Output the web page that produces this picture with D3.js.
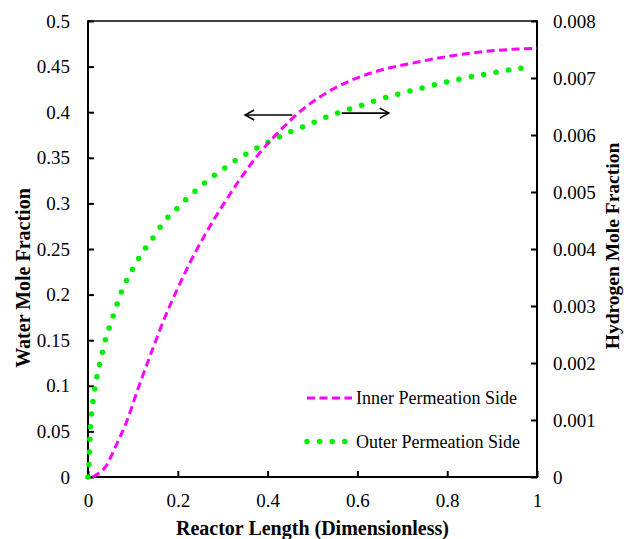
<!DOCTYPE html>
<html>
<head>
<meta charset="utf-8">
<script src="https://cdn.jsdelivr.net/npm/d3@7"></script>
<style>
    html, body { margin: 0; padding: 0; background: #fff; }
    svg { display: block; }
</style>
</head>
<body>
<svg id="chart" width="624" height="539"></svg>
<script>
// Tick values
const xTicks = [0, 0.2, 0.4, 0.6, 0.8, 1];
const waterTicks = [0, 0.05, 0.1, 0.15, 0.2, 0.25, 0.3, 0.35, 0.4, 0.45, 0.5];
const hydrogenTicks = [0, 0.001, 0.002, 0.003, 0.004, 0.005, 0.006, 0.007, 0.008];

// Inner permeation side (water mole fraction, left axis)
const innerX = [0.01, 0.017, 0.039, 0.061, 0.087, 0.113, 0.143, 0.172, 0.198, 0.224, 0.261, 0.299,
    0.335, 0.38, 0.428, 0.473, 0.517, 0.577, 0.651, 0.725, 0.799, 0.873, 0.947, 1.0];
const innerY = [0, 0.002, 0.011, 0.033, 0.062, 0.099, 0.139, 0.176, 0.205, 0.232, 0.266, 0.297,
    0.324, 0.354, 0.38, 0.401, 0.417, 0.433, 0.446, 0.454, 0.461, 0.466, 0.469, 0.47];

// Outer permeation side (hydrogen mole fraction, right axis)
const outerX = [0, 0.002, 0.003, 0.004, 0.0056, 0.008, 0.011, 0.015, 0.02, 0.026, 0.033, 0.039,
    0.048, 0.057, 0.066, 0.076, 0.088, 0.101, 0.115, 0.131, 0.148, 0.165, 0.183, 0.204, 0.223,
    0.244, 0.267, 0.29, 0.312, 0.336, 0.36, 0.385, 0.41, 0.437, 0.464, 0.491, 0.517, 0.543,
    0.569, 0.597, 0.623, 0.651, 0.679, 0.705, 0.732, 0.76, 0.789, 0.815, 0.844, 0.872, 0.9,
    0.928, 0.956, 0.985];
const outerY = [0, 0.0002, 0.00042, 0.00066, 0.00088, 0.00111, 0.00133, 0.00154, 0.00177, 0.00199,
    0.00222, 0.00242, 0.00264, 0.00285, 0.00306, 0.00328, 0.00348, 0.00367, 0.00386, 0.00405,
    0.00423, 0.00443, 0.0046, 0.00475, 0.00491, 0.00505, 0.00521, 0.00534, 0.00546, 0.00559,
    0.0057, 0.00581, 0.00591, 0.00601, 0.0061, 0.00618, 0.00627, 0.00635, 0.00642, 0.00649,
    0.00656, 0.00663, 0.00669, 0.00675, 0.0068, 0.00686, 0.00691, 0.00696, 0.00701, 0.00705,
    0.00709, 0.00713, 0.00716, 0.00721];

const seriesLabels = ["Inner Permeation Side", "Outer Permeation Side"];

const serif = "Liberation Serif, Times New Roman, serif";
const svg = d3.select("#chart").attr("font-family", serif);
const plot = { left: 88, right: 537, top: 21, bottom: 477 };

const x = d3.scaleLinear().domain([0, 1]).range([plot.left, plot.right]);
const yWater = d3.scaleLinear().domain([0, 0.5]).range([plot.bottom, plot.top]);
const yH2 = d3.scaleLinear().domain([0, 0.008]).range([plot.bottom, plot.top]);

const fmt = d => String(+d.toFixed(4));

function styleAxis(g) {
    g.attr("font-family", serif).attr("font-size", 19);
    g.select(".domain").remove();
    g.selectAll(".tick line").attr("stroke", "#000").attr("stroke-width", 2);
    g.selectAll(".tick text").attr("fill", "#000").attr("font-family", serif);
}

svg.append("g")
    .attr("transform", `translate(${plot.left},0)`)
    .call(d3.axisLeft(yWater).tickValues(waterTicks).tickFormat(fmt).tickSize(-6).tickPadding(18))
    .call(styleAxis);

svg.append("g")
    .attr("transform", `translate(${plot.right},0)`)
    .call(d3.axisRight(yH2).tickValues(hydrogenTicks).tickFormat(fmt).tickSize(-6).tickPadding(16))
    .call(styleAxis);

svg.append("g")
    .attr("transform", `translate(0,${plot.bottom})`)
    .call(d3.axisBottom(x).tickValues(xTicks).tickFormat(fmt).tickSize(-6).tickPadding(17))
    .call(styleAxis);

// Frame
const frame = svg.append("g").attr("stroke", "#000").attr("fill", "none");
frame.append("line").attr("x1", plot.left).attr("x2", plot.right)
    .attr("y1", plot.top).attr("y2", plot.top).attr("stroke-width", 1.5);
frame.append("line").attr("x1", plot.left).attr("x2", plot.left)
    .attr("y1", plot.top - 0.75).attr("y2", plot.bottom + 1).attr("stroke-width", 2);
frame.append("line").attr("x1", plot.right).attr("x2", plot.right)
    .attr("y1", plot.top - 0.75).attr("y2", plot.bottom + 1).attr("stroke-width", 2);
frame.append("line").attr("x1", plot.left - 1).attr("x2", plot.right + 1)
    .attr("y1", plot.bottom).attr("y2", plot.bottom).attr("stroke-width", 2);

// Curves
const innerData = innerX.map((v, i) => [v, innerY[i]]);
const outerData = outerX.map((v, i) => [v, outerY[i]]);

const innerLine = d3.line().x(d => x(d[0])).y(d => yWater(d[1])).curve(d3.curveMonotoneX);
const outerLine = d3.line().x(d => x(d[0])).y(d => yH2(d[1])).curve(d3.curveMonotoneX);

const innerStyle = { stroke: "#ff00ff", width: 3, dash: "8 4.5", cap: "butt" };
const outerStyle = { stroke: "#00ee00", width: 5.5, dash: "0 12.6", cap: "round" };

function applyStyle(sel, s) {
    sel.attr("fill", "none")
        .attr("stroke", s.stroke)
        .attr("stroke-width", s.width)
        .attr("stroke-dasharray", s.dash)
        .attr("stroke-linecap", s.cap);
}

svg.append("path").attr("d", outerLine(outerData)).call(applyStyle, outerStyle);
svg.append("path").attr("d", innerLine(innerData)).call(applyStyle, innerStyle);

// Direction arrows
function arrow(x1, x2, yy) {
    const g = svg.append("g").attr("stroke", "#000").attr("stroke-width", 1.6).attr("fill", "none");
    g.append("line").attr("x1", x1).attr("x2", x2).attr("y1", yy).attr("y2", yy);
    const dir = x2 > x1 ? -1 : 1;
    g.append("path")
        .attr("d", `M${x2 + dir * 9},${yy - 5}L${x2},${yy}L${x2 + dir * 9},${yy + 5}`)
        .attr("stroke-linejoin", "miter");
}
arrow(x(0.455), x(0.35), yWater(0.397));
arrow(x(0.565), x(0.67), yWater(0.399));

// Legend
const legendItems = [
    { label: seriesLabels[0], style: innerStyle, y: 398 },
    { label: seriesLabels[1], style: outerStyle, y: 441.5 }
];
legendItems.forEach(item => {
    svg.append("path")
        .attr("d", `M307,${item.y}L${item.style.cap === "round" ? 349 : 352},${item.y}`)
        .call(applyStyle, item.style);
    svg.append("text")
        .attr("x", 356)
        .attr("y", item.y)
        .attr("dy", "0.35em")
        .attr("font-size", 18)
        .attr("fill", "#000")
        .text(item.label);
});

// Axis titles
svg.append("text")
    .attr("x", (plot.left + plot.right) / 2)
    .attr("y", 534.5)
    .attr("text-anchor", "middle")
    .attr("font-size", 20)
    .attr("font-weight", "bold")
    .text("Reactor Length (Dimensionless)");

svg.append("text")
    .attr("transform", "translate(30,278) rotate(-90)")
    .attr("text-anchor", "middle")
    .attr("font-size", 20)
    .attr("font-weight", "bold")
    .text("Water Mole Fraction");

svg.append("text")
    .attr("transform", "translate(619,246) rotate(-90)")
    .attr("text-anchor", "middle")
    .attr("font-size", 19.5)
    .attr("font-weight", "bold")
    .text("Hydrogen Mole Fraction");
</script>
</body>
</html>
